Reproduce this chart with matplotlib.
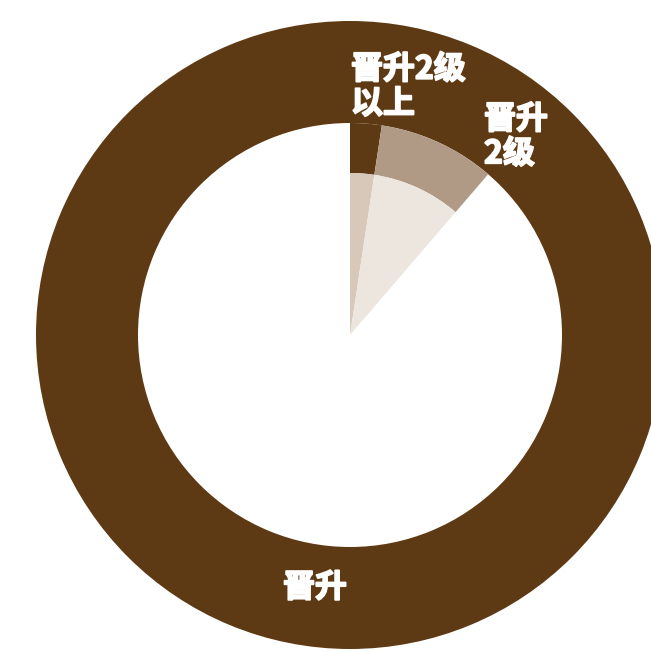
import matplotlib
matplotlib.use("Agg")
import matplotlib.pyplot as plt
import matplotlib.patheffects as pe

plt.rcParams['font.family'] = ['Noto Sans CJK SC', 'DejaVu Sans']

# Data
categories = ["晋升2级以上", "晋升2级", "其他"]
shares = [2.4, 8.9, 88.7]          # share of total (%)
outer_label = "晋升"
outer_values = [100]

dark = "#5e3a14"
mid_colors = [dark, "#b09a85", "none"]
inner_colors = ["#d7c8b9", "#ede6df", "none"]

W, H = 651, 652
fig = plt.figure(figsize=(W / 100, H / 100), dpi=100)
ax = fig.add_axes([0, 0, 1, 1])
ax.set_xlim(0, W)
ax.set_ylim(0, H)
ax.set_aspect('equal')
ax.axis('off')

cx, cy = 350, H - 335
R_outer, R_mid, R_inner = 314, 212, 162

# outer ring: 晋升
ax.pie(outer_values, colors=[dark], radius=R_outer, center=(cx, cy),
       startangle=90, counterclock=False,
       wedgeprops=dict(width=R_outer - R_mid, linewidth=0))
# middle band
ax.pie(shares, colors=mid_colors, radius=R_mid, center=(cx, cy),
       startangle=90, counterclock=False,
       wedgeprops=dict(width=R_mid - R_inner, linewidth=0))
# inner pie
ax.pie(shares, colors=inner_colors, radius=R_inner, center=(cx, cy),
       startangle=90, counterclock=False,
       wedgeprops=dict(linewidth=0))

ax.set_xlim(0, W)
ax.set_ylim(0, H)

fs = 23
heavy = [pe.withStroke(linewidth=1.3, foreground="white")]
ax.text(351, H - 87, "晋升2级\n以上", color="white", fontsize=fs, fontweight="bold",
        ha="left", va="center", linespacing=1.1, path_effects=heavy)
ax.text(484, H - 137, "晋升\n2级", color="white", fontsize=fs, fontweight="bold",
        ha="left", va="center", linespacing=1.1, path_effects=heavy)
ax.text(315, H - 588, outer_label, color="white", fontsize=fs, fontweight="bold",
        ha="center", va="center", path_effects=heavy)

fig.savefig("out.png", dpi=100, facecolor="white")
